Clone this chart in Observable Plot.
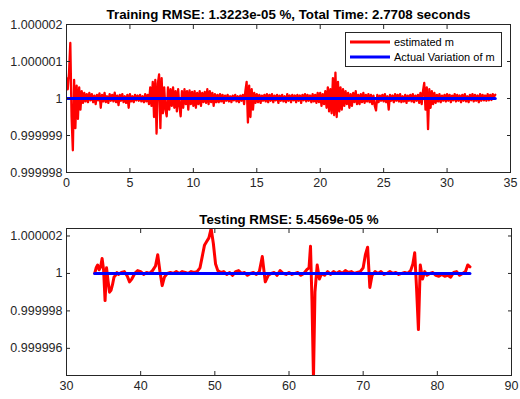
<!DOCTYPE html>
<html>
<head>
<meta charset="utf-8">
<script src="https://cdn.jsdelivr.net/npm/d3@7"></script>
<script src="https://cdn.jsdelivr.net/npm/@observablehq/plot@0.6"></script>
<style>
  html, body { margin: 0; padding: 0; background: #fff; }
  #chart svg { display: block; }
</style>
</head>
<body>
<div id="chart"></div>
<script>
// Training run: time (s), one row per second
const trainTime = [
  0.0, 0.1, 0.2, 0.3, 0.4, 0.5, 0.6, 0.7, 0.8, 0.9,
  1.0, 1.1, 1.2, 1.3, 1.4, 1.5, 1.6, 1.7, 1.8, 1.9,
  2.0, 2.1, 2.2, 2.3, 2.4, 2.5, 2.6, 2.7, 2.8, 2.9,
  3.0, 3.1, 3.2, 3.3, 3.4, 3.5, 3.6, 3.7, 3.8, 3.9,
  4.0, 4.1, 4.2, 4.3, 4.4, 4.5, 4.6, 4.7, 4.8, 4.9,
  5.0, 5.1, 5.2, 5.3, 5.4, 5.5, 5.6, 5.7, 5.8, 5.9,
  6.0, 6.1, 6.2, 6.3, 6.4, 6.5, 6.6, 6.7, 6.8, 6.9,
  7.0, 7.1, 7.2, 7.3, 7.4, 7.5, 7.6, 7.7, 7.8, 7.9,
  8.0, 8.1, 8.2, 8.3, 8.4, 8.5, 8.6, 8.7, 8.8, 8.9,
  9.0, 9.1, 9.2, 9.3, 9.4, 9.5, 9.6, 9.7, 9.8, 9.9,
  10.0, 10.1, 10.2, 10.3, 10.4, 10.5, 10.6, 10.7, 10.8, 10.9,
  11.0, 11.1, 11.2, 11.3, 11.4, 11.5, 11.6, 11.7, 11.8, 11.9,
  12.0, 12.1, 12.2, 12.3, 12.4, 12.5, 12.6, 12.7, 12.8, 12.9,
  13.0, 13.1, 13.2, 13.3, 13.4, 13.5, 13.6, 13.7, 13.8, 13.9,
  14.0, 14.1, 14.2, 14.3, 14.4, 14.5, 14.6, 14.7, 14.8, 14.9,
  15.0, 15.1, 15.2, 15.3, 15.4, 15.5, 15.6, 15.7, 15.8, 15.9,
  16.0, 16.1, 16.2, 16.3, 16.4, 16.5, 16.6, 16.7, 16.8, 16.9,
  17.0, 17.1, 17.2, 17.3, 17.4, 17.5, 17.6, 17.7, 17.8, 17.9,
  18.0, 18.1, 18.2, 18.3, 18.4, 18.5, 18.6, 18.7, 18.8, 18.9,
  19.0, 19.1, 19.2, 19.3, 19.4, 19.5, 19.6, 19.7, 19.8, 19.9,
  20.0, 20.1, 20.2, 20.3, 20.4, 20.5, 20.6, 20.7, 20.8, 20.9,
  21.0, 21.1, 21.2, 21.3, 21.4, 21.5, 21.6, 21.7, 21.8, 21.9,
  22.0, 22.1, 22.2, 22.3, 22.4, 22.5, 22.6, 22.7, 22.8, 22.9,
  23.0, 23.1, 23.2, 23.3, 23.4, 23.5, 23.6, 23.7, 23.8, 23.9,
  24.0, 24.1, 24.2, 24.3, 24.4, 24.5, 24.6, 24.7, 24.8, 24.9,
  25.0, 25.1, 25.2, 25.3, 25.4, 25.5, 25.6, 25.7, 25.8, 25.9,
  26.0, 26.1, 26.2, 26.3, 26.4, 26.5, 26.6, 26.7, 26.8, 26.9,
  27.0, 27.1, 27.2, 27.3, 27.4, 27.5, 27.6, 27.7, 27.8, 27.9,
  28.0, 28.1, 28.2, 28.3, 28.4, 28.5, 28.6, 28.7, 28.8, 28.9,
  29.0, 29.1, 29.2, 29.3, 29.4, 29.5, 29.6, 29.7, 29.8, 29.9,
  30.0, 30.1, 30.2, 30.3, 30.4, 30.5, 30.6, 30.7, 30.8, 30.9,
  31.0, 31.1, 31.2, 31.3, 31.4, 31.5, 31.6, 31.7, 31.8, 31.9,
  32.0, 32.1, 32.2, 32.3, 32.4, 32.5, 32.6, 32.7, 32.8, 32.9,
  33.0, 33.1, 33.2, 33.3, 33.4, 33.5, 33.6, 33.7, 33.8
];
// Training run: estimated m, same rows
const trainEstimated = [
  1.00000055, 1.00000025, 1.0000007, 1.0000015, 0.9999995, 0.9999986, 1.0000005, 0.9999992, 1.00000035, 0.99999945,
  1.0000003, 0.9999997, 1.0000002, 0.99999988, 1.00000015, 0.99999992, 1.00000012, 0.9999999, 1.00000015, 0.99999995,
  1.00000012, 0.9999999, 1.00000008, 0.99999985, 1.0000001, 0.99999995, 1.00000014, 0.99999975, 1.0000001, 0.99999992,
  1.00000015, 0.9999999, 1.00000006, 0.99999988, 1.00000012, 0.99999994, 1.0000001, 0.99999992, 1.00000016, 0.9999999,
  1.00000008, 0.99999982, 1.0000001, 0.99999994, 1.00000012, 0.9999999, 1.00000006, 0.99999988, 1.0000001, 0.99999975,
  1.00000012, 0.99999992, 1.00000006, 0.9999999, 1.0000001, 0.99999995, 1.00000008, 0.99999994, 1.0000001, 0.99999992,
  1.00000006, 0.9999999, 1.00000012, 0.99999992, 1.0000001, 0.99999985, 1.0000003, 0.9999998, 1.00000045, 0.9999995,
  1.0000005, 0.99999905, 1.0000004, 1.00000065, 0.9999992, 1.00000055, 0.9999996, 1.0000003, 0.9999997, 0.99999952,
  1.0000003, 0.9999997, 1.00000025, 0.9999998, 1.0000003, 0.99999975, 1.0000002, 0.99999965, 1.00000025, 0.9999998,
  0.99999952, 1.0000002, 0.99999975, 1.00000025, 0.99999985, 1.0000002, 0.9999997, 1.00000022, 0.99999985, 1.00000018,
  0.9999998, 1.0000002, 0.99999975, 1.00000015, 0.99999985, 1.0000002, 0.9999998, 1.00000015, 0.9999999, 1.00000018,
  0.99999988, 1.00000025, 0.99999985, 1.0000002, 0.9999999, 1.00000015, 0.9999998, 1.00000012, 0.9999999, 1.0000001,
  0.9999999, 1.00000012, 0.99999992, 1.0000001, 0.99999988, 1.00000008, 0.99999994, 1.0000001, 0.99999992, 1.00000006,
  0.9999999, 1.00000008, 0.99999995, 1.0000001, 0.99999992, 1.00000006, 0.9999999, 1.00000008, 0.99999994, 1.0000001,
  0.99999985, 1.0000002, 1.00000045, 0.99999935, 1.00000035, 0.9999995, 1.00000025, 0.9999997, 1.00000015, 0.99999988,
  1.00000012, 0.9999999, 1.0000001, 0.99999988, 1.00000008, 0.99999994, 1.0000001, 0.99999992, 1.00000012, 0.9999999,
  1.0000001, 0.99999994, 1.00000012, 0.9999999, 1.00000008, 0.99999995, 1.0000001, 0.99999988, 1.00000008, 0.99999994,
  1.0000001, 0.99999992, 1.00000006, 0.9999999, 1.00000012, 0.99999994, 1.00000008, 0.9999999, 1.0000001, 0.99999995,
  1.00000008, 0.9999999, 1.0000001, 0.99999994, 1.00000008, 0.99999988, 1.0000001, 0.99999995, 1.00000012, 0.99999992,
  1.0000001, 0.99999994, 1.00000008, 0.9999999, 1.00000012, 0.99999992, 1.0000001, 0.99999988, 1.00000015, 0.9999999,
  1.00000015, 0.9999998, 1.00000012, 0.99999985, 1.0000002, 0.99999975, 1.0000003, 0.99999965, 1.00000025, 0.9999996,
  1.00000055, 0.99999955, 1.0000007, 0.9999995, 1.00000045, 0.99999965, 1.0000003, 0.9999997, 1.00000025, 0.9999998,
  1.0000002, 0.99999985, 1.00000015, 0.99999975, 1.00000012, 0.9999998, 1.00000015, 0.9999999, 1.0000002, 0.99999985,
  1.0000001, 0.99999985, 1.00000012, 0.9999999, 1.00000015, 0.99999988, 1.0000001, 0.99999992, 1.00000012, 0.9999999,
  1.0000001, 0.99999985, 1.00000008, 0.9999998, 0.99999968, 1.0000001, 0.9999999, 1.00000008, 0.99999994, 1.0000001,
  0.99999992, 1.00000012, 0.9999999, 1.00000006, 0.9999997, 1.0000001, 0.99999994, 1.00000008, 0.9999999, 1.00000012,
  0.99999994, 1.0000001, 0.99999992, 1.00000012, 0.9999999, 1.00000006, 0.99999992, 1.0000001, 0.99999988, 1.00000008,
  0.99999994, 1.0000001, 0.99999992, 1.00000012, 0.9999999, 1.00000008, 0.99999994, 1.0000001, 0.99999988, 1.00000015,
  0.99999985, 1.0000002, 1.00000042, 0.9999997, 1.0000003, 0.99999917, 1.00000025, 0.99999975, 1.0000002, 0.99999985,
  1.00000015, 0.99999988, 1.0000001, 0.99999992, 1.00000012, 0.9999999, 1.00000008, 0.99999994, 1.0000001, 0.99999992,
  1.00000012, 0.99999994, 1.0000001, 0.9999999, 1.00000008, 0.99999995, 1.00000012, 0.99999992, 1.0000001, 0.99999994,
  1.00000008, 0.9999999, 1.0000001, 0.99999994, 1.00000012, 0.99999992, 1.00000006, 0.9999999, 1.0000001, 0.99999995,
  1.00000012, 0.99999992, 1.0000001, 0.99999994, 1.00000008, 0.9999999, 1.00000012, 0.99999994, 1.0000001, 0.99999995,
  1.00000008, 0.99999994, 1.00000012, 0.99999995, 1.0000001, 0.99999996, 1.00000012, 1.00000005, 1.0000001
];
const trainActualTime = [0, 33.8];
const trainActual = [1, 1];

// Testing run: time (s) and estimated m
const testTime = [
  33.8, 34.0, 34.2, 34.4, 34.6, 34.8, 35.0, 35.2, 35.4, 35.6, 35.8, 36.0, 36.2, 36.4, 36.6, 36.8,
  37.0, 37.4, 37.8, 38.2, 38.5, 38.8, 39.2, 39.6, 40.0, 40.4, 40.8, 41.2, 41.6, 42.0, 42.3, 42.6, 42.9,
  43.2, 43.6, 44.0, 44.4, 44.8, 45.2, 45.6, 46.0, 46.4, 46.8, 47.2, 47.6, 48.0, 48.3, 48.6, 48.9,
  49.2, 49.5, 49.8, 50.1, 50.4, 50.8, 51.2, 51.6, 52.0, 52.4, 52.8, 53.2, 53.6, 54.0, 54.4, 54.8,
  55.2, 55.6, 56.0, 56.4, 56.8, 57.2, 57.6, 58.0, 58.4, 58.8, 59.2, 59.6, 60.0, 60.4, 60.8, 61.2,
  61.6, 62.0, 62.4, 62.7, 62.9, 63.1, 63.3, 63.5, 63.8, 64.1, 64.4, 64.8, 65.2, 65.6, 66.0, 66.4,
  66.8, 67.2, 67.6, 68.0, 68.4, 68.8, 69.2, 69.6, 70.0, 70.3, 70.6, 70.9, 71.2, 71.6, 72.0, 72.4,
  72.8, 73.2, 73.6, 74.0, 74.4, 74.8, 75.2, 75.6, 76.0, 76.4, 76.7, 76.95, 77.2, 77.45, 77.7, 78.0,
  78.3, 78.6, 79.0, 79.4, 79.8, 80.2, 80.6, 81.0, 81.4, 81.8, 82.2, 82.6, 83.0, 83.4, 83.8, 84.1, 84.4
];
const testEstimated = [
  1, 1.0000003, 1.00000045, 1.0000002, 1.00000035, 1.0000008, 1.0000002, 0.99999855, 1.0000003, 0.9999996, 0.999999, 0.9999991, 0.9999994, 0.9999998, 0.9999999, 1.00000005,
  0.99999995, 1.00000005, 1.0000001, 0.99999985, 0.99999955, 0.9999997, 1, 1.00000015, 1.0000001, 0.99999995, 1.00000005, 1, 1.00000015, 1.0000004, 1.000001, 1.0000001, 0.99999935,
  0.9999998, 1, 1.00000005, 1, 1.0000001, 1, 1.0000001, 1.00000005, 1, 1.0000001, 1.00000005, 1.0000001, 1.0000003, 1.0000009, 1.0000015, 1.0000017,
  1.0000019, 1.0000024, 1.0000016, 1.0000005, 1.00000015, 1.00000005, 1.0000001, 0.99999995, 1.00000005, 0.9999999, 1.0000001, 1.00000015, 1, 1.00000005, 0.9999999, 1,
  1.00000005, 0.99999995, 1.0000001, 1.0000009, 0.99999955, 0.9999999, 1, 1.00000005, 0.9999999, 1.00000015, 1, 0.99999995, 1.00000005, 0.99999995, 1, 1.00000005,
  0.9999999, 1, 1.0000002, 1.0000003, 1.00000145, 0.9999985, 0.9999944, 0.999999, 1.00000045, 0.9999997, 1, 0.9999999, 1.0000001, 0.99999995, 1.0000001, 1,
  1.0000001, 1, 1.00000015, 1.00000005, 1.0000001, 1, 1.00000005, 1.0000001, 1.0000003, 1.000001, 1.0000014, 0.99999925, 0.9999999, 1.0000001, 1, 1.0000001,
  0.99999995, 1, 1.0000001, 1, 1.00000005, 0.99999995, 1, 1.00000005, 1, 1.00000015, 1.0000005, 1.0000011, 0.9999992, 0.999997, 1.00000045, 0.9999997,
  1.0000001, 0.9999999, 1, 1.00000005, 0.9999999, 0.99999985, 0.99999995, 0.99999985, 0.9999999, 0.9999998, 1.00000005, 1.0000001, 0.9999999, 1, 1.0000001, 1.00000045, 1.00000035
];
const testActualTime = [33.8, 84.4];
const testActual = [1, 1];

// Axis ticks
const trainXTicks = [0, 5, 10, 15, 20, 25, 30, 35];
const trainYTicks = [0.999998, 0.999999, 1, 1.000001, 1.000002];
const testXTicks = [30, 40, 50, 60, 70, 80, 90];
const testYTicks = [0.999996, 0.999998, 1, 1.000002];

const legendLabels = ["estimated m", "Actual Variation of m"];
const legendColors = ["#ff0000", "#0000ff"];

const trainTitle = "Training RMSE: 1.3223e-05 %, Total Time: 2.7708 seconds";
const testTitle = "Testing RMSE: 5.4569e-05 %";

const axisColor = "#262626";
const fmtY = d => String(+d.toFixed(6));
const blank = () => "";

// Legend box drawn in the upper-right corner of the axes
function legendBox(index, scales, values, dimensions) {
  const {width, marginRight, marginTop} = dimensions;
  const w = 156, h = 34;
  const right = width - marginRight - 9, top = marginTop + 8, left = right - w;
  const g = d3.create("svg:g").attr("text-anchor", "start");
  g.append("rect")
    .attr("x", left + 0.5).attr("y", top + 0.5).attr("width", w).attr("height", h)
    .attr("fill", "white").attr("stroke", axisColor).attr("stroke-width", 1);
  legendLabels.forEach((label, i) => {
    const y = top + 10 + i * 15;
    g.append("line")
      .attr("x1", left + 5).attr("x2", left + 45).attr("y1", y).attr("y2", y)
      .attr("stroke", legendColors[i]).attr("stroke-width", 3);
    g.append("text")
      .attr("x", left + 49).attr("y", y).attr("dy", "0.35em")
      .attr("text-anchor", "start")
      .attr("font-size", 11).attr("fill", "#000")
      .text(label);
  });
  return g.node();
}

function panel(o) {
  return Plot.plot({
    width: 520,
    height: o.height,
    marginLeft: 66,
    marginRight: o.marginRight,
    marginTop: o.marginTop,
    marginBottom: o.marginBottom,
    style: {fontFamily: "'Liberation Sans', Arial, sans-serif", fontSize: "12.5px", color: axisColor, background: "#fff"},
    x: {domain: o.xDomain},
    y: {domain: o.yDomain},
    marks: [
      Plot.line(o.estimated, {x: o.time, y: o.estimated, stroke: legendColors[0], strokeWidth: o.redWidth, clip: true}),
      Plot.line(o.actual, {x: o.actualTime, y: o.actual, stroke: legendColors[1], strokeWidth: 3, clip: true}),
      Plot.frame({stroke: axisColor, strokeWidth: 1}),
      Plot.axisX({ticks: o.xTicks, tickSize: -4, tickPadding: 10, label: null}),
      Plot.axisX({anchor: "top", ticks: o.xTicks, tickSize: -4, tickFormat: blank, label: null}),
      Plot.axisY({ticks: o.yTicks, tickSize: -4, tickPadding: 8, tickFormat: fmtY, label: null}),
      Plot.axisY({anchor: "right", ticks: o.yTicks, tickSize: -4, tickFormat: blank, label: null}),
      Plot.text([o.title], {frameAnchor: "top", lineAnchor: "middle", dy: o.titleDy, fontWeight: "bold", fontSize: 13.3, fill: "#000"}),
      o.legend ? legendBox : null
    ]
  });
}

const chart = document.getElementById("chart");
chart.append(panel({
  height: 200, marginTop: 24, marginBottom: 28, marginRight: 10,
  xDomain: [0, 35], yDomain: [0.999998, 1.000002],
  time: trainTime, estimated: trainEstimated, actualTime: trainActualTime, actual: trainActual,
  xTicks: trainXTicks, yTicks: trainYTicks, title: trainTitle, titleDy: -10,
  redWidth: 2.3, legend: true
}));
chart.append(panel({
  height: 199, marginTop: 28, marginBottom: 24, marginRight: 9,
  xDomain: [30, 90], yDomain: [0.99999455, 1.0000024],
  time: testTime, estimated: testEstimated, actualTime: testActualTime, actual: testActual,
  xTicks: testXTicks, yTicks: testYTicks, title: testTitle, titleDy: -9,
  redWidth: 3, legend: false
}));
</script>
</body>
</html>
